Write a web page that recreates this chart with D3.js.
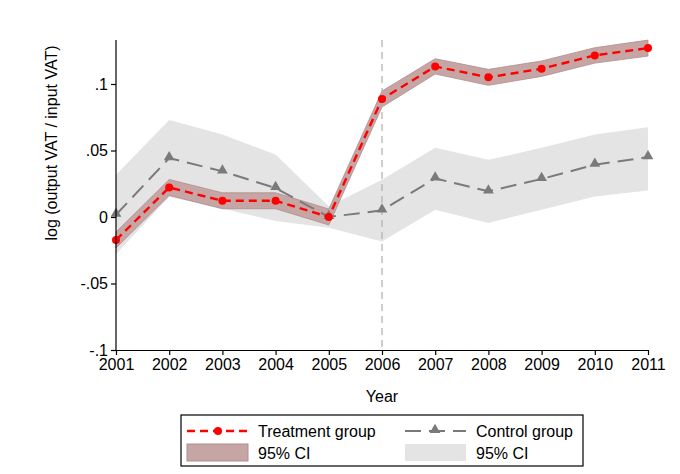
<!DOCTYPE html>
<html><head><meta charset="utf-8">
<script src="https://cdn.jsdelivr.net/npm/d3@7"></script>
<style>body{margin:0;background:#fff}svg{font-family:"Liberation Sans",Arial,sans-serif}</style>
</head><body><svg id="c" width="680" height="474"></svg>
<script>
const years = [2001,2002,2003,2004,2005,2006,2007,2008,2009,2010,2011];
const treat = [-0.0173,0.0222,0.0122,0.0122,0.0,0.0887,0.1132,0.105,0.1115,0.1215,0.127];
const treatLo = [-0.0233,0.0162,0.0062,0.0062,-0.006,0.0827,0.1075,0.099,0.1057,0.1157,0.121];
const treatHi = [-0.0113,0.0282,0.0182,0.0182,0.006,0.0947,0.119,0.111,0.1173,0.1273,0.133];
const ctrl = [0.0017,0.0443,0.0343,0.0218,0.0,0.0050,0.029,0.0193,0.0286,0.0393,0.045];
const ctrlLo = [-0.028,0.0153,0.0063,-0.003,-0.008,-0.0185,0.0055,-0.0045,0.0055,0.0155,0.020];
const ctrlHi = [0.0317,0.073,0.062,0.047,0.008,0.028,0.052,0.043,0.052,0.062,0.0675];
const yTicks = [-0.1,-0.05,0,0.05,0.1];
const yTickLabels = ["-.1","-.05","0",".05",".1"];
const treatedYear = 2006;

const FS = 16;
const svg = d3.select("#c");
const x = d3.scaleLinear().domain([2001,2011]).range([116,648]);
const y = d3.scaleLinear().domain([-0.1,0.1]).range([350,84]);
const yTop = 40;
const bandFill = "#c6a5a5", bandStroke = "#b08d8d";

const idx = d3.range(years.length);
svg.append("path").datum(idx)
  .attr("d", d3.area().x(i=>x(years[i])).y0(i=>y(ctrlLo[i])).y1(i=>y(ctrlHi[i])))
  .attr("fill","#e4e4e4").attr("stroke","none");
svg.append("path").datum(idx)
  .attr("d", d3.area().x(i=>x(years[i])).y0(i=>y(treatLo[i])).y1(i=>y(treatHi[i])))
  .attr("fill",bandFill).attr("stroke",bandStroke).attr("stroke-width",0.8);

svg.append("line").attr("x1",x(treatedYear)).attr("x2",x(treatedYear))
  .attr("y1",yTop).attr("y2",350)
  .attr("stroke","#b0b0b0").attr("stroke-width",1.2).attr("stroke-dasharray","7,5");

const line = (arr)=>d3.line().x(i=>x(years[i])).y(i=>y(arr[i]));
svg.append("path").datum(idx).attr("d",line(ctrl))
  .attr("fill","none").attr("stroke","#7a7a7a").attr("stroke-width",2).attr("stroke-dasharray","16,8");
svg.selectAll(".tri").data(idx).enter().append("path")
  .attr("d", d3.symbol().type(d3.symbolTriangle).size(50))
  .attr("transform", i=>`translate(${x(years[i])},${y(ctrl[i])-1})`)
  .attr("fill","#7a7a7a");

svg.append("path").datum(idx).attr("d",line(treat))
  .attr("fill","none").attr("stroke","#ff0000").attr("stroke-width",2.4).attr("stroke-dasharray","8,5");
svg.selectAll(".dot").data(idx).enter().append("circle")
  .attr("cx",i=>x(years[i])).attr("cy",i=>y(treat[i])).attr("r",4).attr("fill","#ff0000");

const yAxis = d3.axisLeft(y).tickValues(yTicks).tickFormat((d,i)=>yTickLabels[i]).tickSize(5).tickSizeOuter(0);
const gy = svg.append("g").attr("transform","translate(116,0)").call(yAxis);
gy.select(".domain").remove();
gy.append("line").attr("x1",0).attr("x2",0).attr("y1",yTop).attr("y2",350).attr("stroke","#000").attr("stroke-width",1.2);
gy.selectAll("text").attr("font-size",FS).attr("fill","#000").attr("x",-8).attr("font-family","Liberation Sans, Arial, sans-serif");
gy.selectAll(".tick line").attr("stroke","#000").attr("stroke-width",1.2);

const xAxis = d3.axisBottom(x).tickValues(years).tickFormat(d3.format("d")).tickSize(5).tickSizeOuter(0);
const gx = svg.append("g").attr("transform","translate(0,350)").call(xAxis);
gx.select(".domain").attr("stroke","#000").attr("stroke-width",1.2);
gx.selectAll("text").attr("font-size",FS).attr("fill","#000").attr("y",9).attr("font-family","Liberation Sans, Arial, sans-serif");
gx.selectAll(".tick line").attr("stroke","#000").attr("stroke-width",1.2);

svg.append("text").attr("x",382).attr("y",402).attr("text-anchor","middle").attr("font-size",FS).text("Year");
svg.append("text").attr("transform","translate(57,143) rotate(-90)").attr("text-anchor","middle").attr("font-size",FS)
  .text("log (output VAT / input VAT)");

const lg = svg.append("g");
lg.append("rect").attr("x",181).attr("y",415).attr("width",402).attr("height",51).attr("fill","#fff").attr("stroke","#000").attr("stroke-width",1.2);
lg.append("line").attr("x1",187).attr("x2",248).attr("y1",431).attr("y2",431).attr("stroke","#ff0000").attr("stroke-width",2.4).attr("stroke-dasharray","8,5");
lg.append("circle").attr("cx",218).attr("cy",431).attr("r",4).attr("fill","#ff0000");
lg.append("text").attr("x",258).attr("y",437).attr("font-size",FS).text("Treatment group");
lg.append("line").attr("x1",405).attr("x2",466).attr("y1",431).attr("y2",431).attr("stroke","#7a7a7a").attr("stroke-width",2).attr("stroke-dasharray","16,8");
lg.append("path").attr("d",d3.symbol().type(d3.symbolTriangle).size(50)).attr("transform","translate(435,430)").attr("fill","#7a7a7a");
lg.append("text").attr("x",476).attr("y",437).attr("font-size",FS).text("Control group");
lg.append("rect").attr("x",187).attr("y",444).attr("width",61).attr("height",17).attr("fill",bandFill).attr("stroke",bandStroke);
lg.append("text").attr("x",258).attr("y",458.5).attr("font-size",FS).text("95% CI");
lg.append("rect").attr("x",405).attr("y",444).attr("width",61).attr("height",17).attr("fill","#e4e4e4");
lg.append("text").attr("x",476).attr("y",458.5).attr("font-size",FS).text("95% CI");
</script></body></html>
